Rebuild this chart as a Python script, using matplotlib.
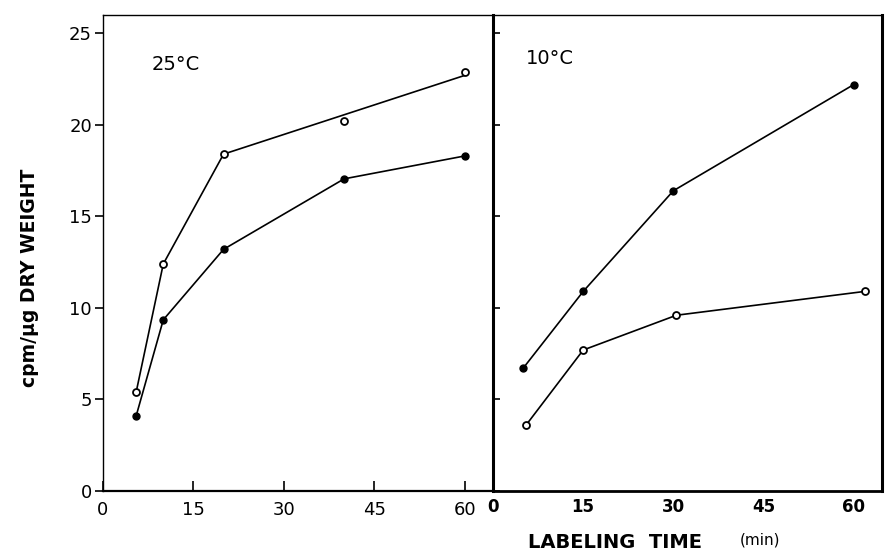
import matplotlib.pyplot as plt

# 25 C panel
t25 = [5.5, 10, 20, 40, 60]
open25 = [5.4, 12.4, 18.4, 20.2, 22.9]
filled25 = [4.1, 9.35, 13.2, 17.05, 18.3]
# hand-drawn line for the open series misses the 40 min point
open25_line_x = [5.5, 10, 20, 60]
open25_line_y = [5.4, 12.4, 18.4, 22.7]

# 10 C panel
t10_filled = [5, 15, 30, 60]
filled10 = [6.7, 10.9, 16.4, 22.2]
t10_open = [5.5, 15, 30.5, 61.8]
open10 = [3.6, 7.7, 9.6, 10.9]

xticks = [0, 15, 30, 45, 60]
yticks = [0, 5, 10, 15, 20, 25]

plt.rcParams['font.family'] = 'DejaVu Sans'

fig = plt.figure(figsize=(8.87, 5.53), dpi=100)
ax1 = fig.add_axes([103/887, 1 - 491/553, 390/887, 476/553])
ax2 = fig.add_axes([493/887, 1 - 491/553, 389/887, 476/553])

for ax in (ax1, ax2):
    ax.set_xlim(0, 64.7)
    ax.set_ylim(0, 26)
    ax.set_xticks(xticks)
    ax.set_yticks(yticks)

lw = 1.2
# left panel
ax1.plot(open25_line_x, open25_line_y, color='black', lw=lw)
ax1.plot(t25, open25, 'o', mfc='white', mec='black', ms=5, mew=1.3)
ax1.plot(t25, filled25, '-o', color='black', lw=lw, ms=5)
ax1.text(8, 23, '25°C', fontsize=14)

ax1.tick_params(axis='y', direction='out', length=6, width=1.2, labelsize=13, pad=2)
ax1.tick_params(axis='x', direction='in', length=7, width=1.2, labelsize=13, pad=7)
ax1.spines['left'].set_linewidth(1.0)
ax1.spines['top'].set_linewidth(1.0)
ax1.spines['bottom'].set_linewidth(1.6)
ax1.spines['right'].set_visible(False)

# right panel
ax2.plot(t10_filled, filled10, '-o', color='black', lw=lw, ms=5)
ax2.plot(t10_open, open10, '-o', color='black', mfc='white', mec='black',
         lw=lw, ms=5, mew=1.3)
ax2.text(5.5, 23.3, '10°C', fontsize=14)

ax2.tick_params(axis='y', direction='in', length=5, width=1.2, labelleft=False)
ax2.tick_params(axis='x', length=0, labelsize=12, pad=5)
for lab in ax2.get_xticklabels():
    lab.set_fontweight('bold')
ax2.spines['left'].set_linewidth(2.2)
ax2.spines['right'].set_linewidth(2.2)
ax2.spines['bottom'].set_linewidth(2.0)
ax2.spines['top'].set_linewidth(1.0)

fig.text(30/887, 1 - 278/553, 'cpm/µg DRY WEIGHT', rotation=90,
         ha='center', va='center', fontsize=13.5, fontweight='bold')
fig.text(528/887, 1 - 543/553, 'LABELING  TIME', ha='left', va='center',
         fontsize=14, fontweight='bold')
fig.text(780/887, 1 - 540/553, '(min)', ha='right', va='center', fontsize=11)

fig.savefig('out.png', dpi=100)
